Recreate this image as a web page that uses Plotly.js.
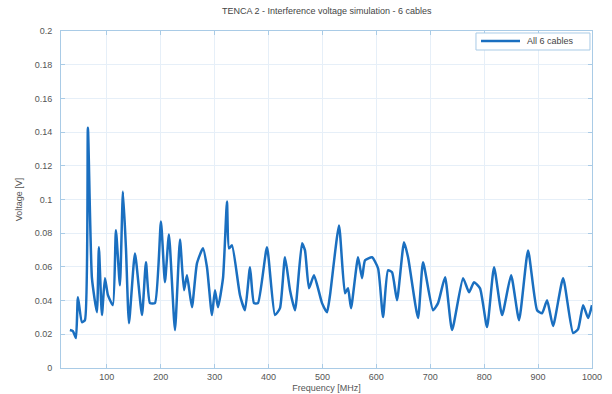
<!DOCTYPE html>
<html>
<head>
<meta charset="utf-8">
<script src="https://cdn.plot.ly/plotly-3.0.1.min.js"></script>
<style>
  html, body { margin: 0; padding: 0; background: #ffffff; }
  #chart { width: 612px; height: 394px; }
</style>
</head>
<body>
<div id="chart"></div>
<script>
// Interference voltage spectrum, all six cables combined
const freqMHz = [
  31.5, 37.1, 42.7, 46.4, 53.8, 59.4, 64.9, 72.4, 81.6, 85.3,
  90.9, 96.5, 102.1, 111.3, 116.9, 124.3, 129.9, 135.5, 141.1, 152.2,
  165.2, 172.6, 180.0, 189.3, 200.4, 207.8, 215.2, 226.4, 235.7, 243.1,
  248.7, 257.9, 267.2, 278.3, 285.8, 295.0, 300.6, 306.2, 315.5, 322.9,
  326.6, 332.2, 347.0, 356.3, 365.6, 373.0, 380.4, 397.1, 411.9, 421.2,
  430.5, 439.8, 449.1, 462.1, 467.6, 475.0, 484.3, 499.2, 508.4, 514.0,
  530.7, 541.8, 547.4, 553.0, 566.0, 573.4, 579.0, 592.0, 603.1, 612.4,
  621.6, 629.1, 638.3, 651.3, 658.8, 677.3, 686.6, 705.1, 714.4, 727.4,
  740.4, 760.8, 771.9, 781.2, 792.3, 805.3, 818.3, 833.2, 849.9, 864.7,
  881.4, 898.1, 907.4, 916.7, 927.8, 946.4, 964.9, 974.2, 983.5, 992.8,
  1000
];

const voltageV = [
  0.0225, 0.0219, 0.0178, 0.0420, 0.0272, 0.0284, 0.1426, 0.0533, 0.0331, 0.0716,
  0.0314, 0.0533, 0.0432, 0.0373, 0.0817, 0.0491, 0.1047, 0.0710, 0.0266, 0.0680,
  0.0314, 0.0627, 0.0385, 0.0385, 0.0870, 0.0509, 0.0793, 0.0225, 0.0763, 0.0462,
  0.0550, 0.0361, 0.0621, 0.0710, 0.0598, 0.0314, 0.0462, 0.0361, 0.0533, 0.0988,
  0.0710, 0.0728, 0.0432, 0.0343, 0.0598, 0.0385, 0.0385, 0.0716, 0.0314, 0.0355,
  0.0657, 0.0462, 0.0343, 0.0740, 0.0698, 0.0473, 0.0550, 0.0385, 0.0331, 0.0432,
  0.0846, 0.0444, 0.0473, 0.0355, 0.0657, 0.0533, 0.0639, 0.0657, 0.0592, 0.0302,
  0.0580, 0.0568, 0.0402, 0.0746, 0.0657, 0.0296, 0.0627, 0.0343, 0.0385, 0.0538,
  0.0225, 0.0533, 0.0450, 0.0509, 0.0473, 0.0243, 0.0598, 0.0314, 0.0550, 0.0284,
  0.0698, 0.0343, 0.0325, 0.0402, 0.0249, 0.0533, 0.0207, 0.0231, 0.0373, 0.0296,
  0.0373
];

const seriesName = 'All 6 cables';
const xTicks = [100, 200, 300, 400, 500, 600, 700, 800, 900, 1000];
const yTicks = [0, 0.02, 0.04, 0.06, 0.08, 0.1, 0.12, 0.14, 0.16, 0.18, 0.2];
const yTickText = ['0', '0.02', '0.04', '0.06', '0.08', '0.1', '0.12', '0.14', '0.16', '0.18', '0.2'];

const lineBlue = '#1a6fc0';
const axisBlue = '#a9cbe6';
const gridBlue = '#e6eff8';
const labelGrey = '#555555';
const fontFamily = '"Liberation Sans", Arial, sans-serif';

const trace = {
  x: freqMHz,
  y: voltageV,
  type: 'scatter',
  mode: 'lines',
  name: seriesName,
  line: { color: lineBlue, width: 2.5, shape: 'spline', smoothing: 0.5 }
};

// compact boxed key in the upper-right corner of the axes
const keyBox = { x0: 0.7815, x1: 0.9962, y0: 0.9436, y1: 0.9941 };
const keyRowY = 0.9703;

const layout = {
  width: 612,
  height: 394,
  margin: { l: 61, r: 20, t: 31, b: 26, pad: 0 },
  paper_bgcolor: '#ffffff',
  plot_bgcolor: '#ffffff',
  font: { family: fontFamily, size: 9, color: labelGrey },
  title: {
    text: 'TENCA 2 - Interference voltage simulation - 6 cables',
    font: { family: fontFamily, size: 9, color: '#444444' },
    x: 0.534, xanchor: 'center',
    y: 0.972, yanchor: 'middle'
  },
  xaxis: {
    range: [15, 1000],
    tickvals: xTicks,
    ticktext: xTicks.map(String),
    ticks: 'inside',
    ticklen: 4,
    tickcolor: axisBlue,
    showline: true,
    linecolor: axisBlue,
    linewidth: 1,
    mirror: 'ticks',
    showgrid: true,
    gridcolor: gridBlue,
    gridwidth: 1,
    zeroline: false,
    tickfont: { size: 9, color: labelGrey },
    title: { text: 'Frequency [MHz]', standoff: 3, font: { size: 9, color: labelGrey } }
  },
  yaxis: {
    range: [0, 0.2],
    tickvals: yTicks,
    ticktext: yTickText,
    ticks: 'inside',
    ticklen: 4,
    tickcolor: axisBlue,
    ticklabelstandoff: 6,
    showline: true,
    linecolor: axisBlue,
    linewidth: 1,
    mirror: 'ticks',
    showgrid: true,
    gridcolor: gridBlue,
    gridwidth: 1,
    zeroline: false,
    tickfont: { size: 9, color: labelGrey },
    title: { text: 'Voltage [V]', standoff: 10, font: { size: 9, color: labelGrey } }
  },
  showlegend: false,
  shapes: [
    {
      type: 'rect', xref: 'paper', yref: 'paper',
      x0: keyBox.x0, x1: keyBox.x1, y0: keyBox.y0, y1: keyBox.y1,
      line: { color: axisBlue, width: 1 }, fillcolor: '#ffffff', layer: 'above'
    },
    {
      type: 'line', xref: 'paper', yref: 'paper',
      x0: 0.791, x1: 0.8644, y0: keyRowY, y1: keyRowY,
      line: { color: lineBlue, width: 2.5 }, layer: 'above'
    }
  ],
  annotations: [
    {
      xref: 'paper', yref: 'paper',
      x: 0.8738, y: keyRowY, xanchor: 'left', yanchor: 'middle',
      text: seriesName, showarrow: false,
      font: { family: fontFamily, size: 9, color: '#444444' }
    }
  ]
};

Plotly.newPlot('chart', [trace], layout, { displayModeBar: false, staticPlot: true });
</script>
</body>
</html>
